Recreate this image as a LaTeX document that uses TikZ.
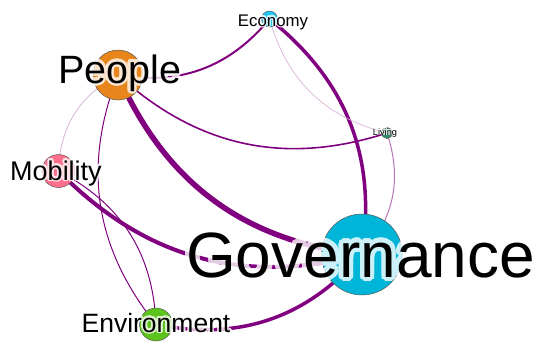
\documentclass[tikz,border=0pt]{standalone}
\usepackage{fontspec}
\setmainfont{Liberation Sans}
\usetikzlibrary{calc}
\pgfdeclarelayer{edgelayer}
\pgfsetlayers{edgelayer,main}
\definecolor{edgep}{HTML}{800080}
\definecolor{cPeople}{HTML}{E8861C}
\definecolor{cEconomy}{HTML}{1EC8F0}
\definecolor{cLiving}{HTML}{2E8A6A}
\definecolor{cMobility}{HTML}{FF6E8C}
\definecolor{cEnv}{HTML}{5CC41C}
\definecolor{cGov}{HTML}{00B6D8}
\tikzset{
  vtx/.style={circle, draw=black!65, line width=0.5pt, inner sep=0pt, minimum size=#1},
  link/.style={draw=edgep, line width=#1, bend right=30},
  palelink/.style={draw=edgep!30, line width=#1, bend right=30},
  lbl/.style={anchor=base, inner sep=0pt, text=black},
}
\newcommand{\glabel}[5]{%
  \begin{scope}[transparency group, opacity=0.8]
    \foreach \ang in {0,15,...,345}
      \node[lbl, text=white, font=\fontsize{#4}{#4}\selectfont] at ($(#2,#3)+(\ang:{0.065*#4})$) {#5};
  \end{scope}
  \node[lbl, font=\fontsize{#4}{#4}\selectfont] (#1) at (#2,#3) {#5};
}
\begin{document}
\begin{tikzpicture}[x=1pt,y=-1pt]
\useasboundingbox (0,0) rectangle (539,343);
% nodes
\node[vtx=50pt, fill=cPeople] (people) at (118,75) {};
\node[vtx=16pt, fill=cEconomy] (economy) at (269.5,19) {};
\node[vtx=11pt, fill=cLiving] (living) at (387,133) {};
\node[vtx=33pt, fill=cMobility] (mobility) at (58.5,171) {};
\node[vtx=33pt, fill=cEnv] (environment) at (156,324.5) {};
\node[vtx=81pt, fill=cGov] (governance) at (362,254.5) {};
% edges
\begin{pgfonlayer}{edgelayer}
\draw[link=2pt] (people.center) to (economy.center);
\draw[link=5.5pt] (people.center) to (governance.center);
\draw[link=1.6pt] (people.center) to (living.center);
\draw[palelink=0.8pt] (people.center) to (mobility.center);
\draw[link=1pt] (people.center) to (environment.center);
\draw[link=3.5pt] (governance.center) to (economy.center);
\draw[palelink=0.7pt] (economy.center) to (living.center);
\draw[draw=edgep!55, line width=1pt, bend right=30] (governance.center) to (living.center);
\draw[link=4pt] (mobility.center) to (governance.center);
\draw[link=1pt] (environment.center) to (mobility.center);
\draw[link=3.5pt] (environment.center) to (governance.center);
\end{pgfonlayer}
% labels
\glabel{tEconomy}{273}{26}{16.8}{Economy}
\glabel{tLiving}{385}{135}{9.2}{Living}
\glabel{tPeople}{119.5}{83}{39.5}{People}
\glabel{tMobility}{56}{180}{27}{Mobility}
\glabel{tEnv}{156}{332}{26.5}{Environment}
\glabel{tGov}{360.5}{277}{64}{Governance}
\end{tikzpicture}
\end{document}
